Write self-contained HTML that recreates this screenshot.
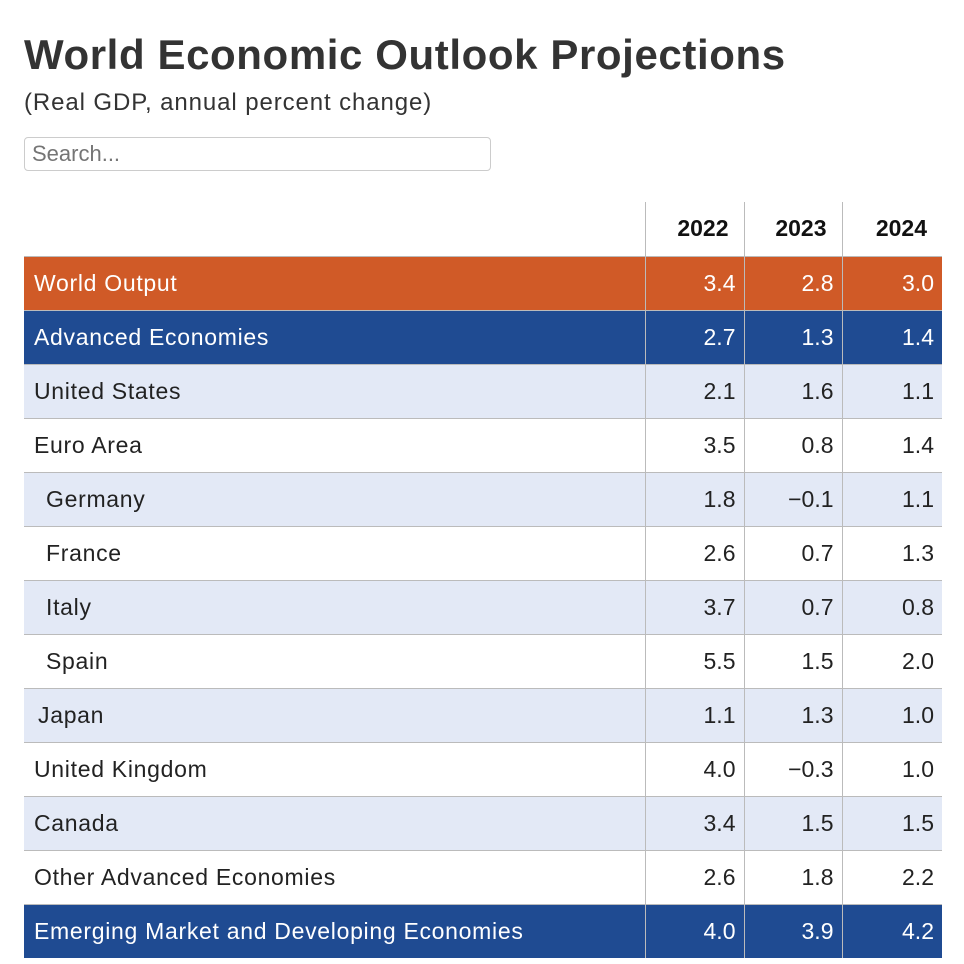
<!DOCTYPE html>
<html><head><meta charset="utf-8">
<style>
html,body{margin:0;padding:0;background:#fff;width:964px;height:964px;overflow:hidden;font-family:"Liberation Sans",sans-serif;color:#222}
#title{position:absolute;left:24px;top:31px;font-size:42px;font-weight:bold;color:#333;letter-spacing:0.6px;margin:0;white-space:nowrap}
#sub{position:absolute;left:24px;top:89px;font-size:24px;color:#333;letter-spacing:0.9px}
#search{position:absolute;left:24px;top:137px;width:467px;height:34px;box-sizing:border-box;border:1px solid #ccc;border-radius:4px;font-size:22px;padding:0 7px;color:#777;font-family:"Liberation Sans",sans-serif}
table{position:absolute;left:24px;top:202px;border-collapse:collapse;width:918px;table-layout:fixed}
td,th{height:54px;padding:0;box-sizing:border-box;font-size:23px}
th{font-weight:bold;text-align:right;padding-right:15px;border-left:1px solid #bbb;font-size:23px;vertical-align:bottom;padding-bottom:14px;color:#111}
th:first-child{border-left:none}
td{border-top:1px solid #bbb;text-align:right;padding-right:8px;border-left:1px solid #bbb}
td:first-child{text-align:left;border-left:none;padding-left:10px;letter-spacing:0.7px}
tr.o td{background:#d05a27;color:#fff}
tr.b td{background:#1f4b92;color:#fff}
tr.l td{background:#e3e9f6}
</style></head><body>
<h1 id="title">World Economic Outlook Projections</h1>
<div id="sub">(Real GDP, annual percent change)</div>
<input id="search" placeholder="Search...">
<table id="tbl">
<colgroup><col style="width:621px"><col style="width:99px"><col style="width:98px"><col style="width:100px"></colgroup>
<thead><tr><th></th><th>2022</th><th>2023</th><th>2024</th></tr></thead>
<tbody id="tb"></tbody>
</table>
<script>
const countries=["World Output","Advanced Economies","United States","Euro Area","Germany","France","Italy","Spain","Japan","United Kingdom","Canada","Other Advanced Economies","Emerging Market and Developing Economies"];
const v2022=[3.4,2.7,2.1,3.5,1.8,2.6,3.7,5.5,1.1,4.0,3.4,2.6,4.0];
const v2023=[2.8,1.3,1.6,0.8,-0.1,0.7,0.7,1.5,1.3,-0.3,1.5,1.8,3.9];
const v2024=[3.0,1.4,1.1,1.4,1.1,1.3,0.8,2.0,1.0,1.0,1.5,2.2,4.2];
const styles=["o","b","l","w","l","w","l","w","l","w","l","w","b"];
const indents=[0,0,0,0,12,12,12,12,4,0,0,0,0];
const tb=document.getElementById('tb');
function fmt(x){return x<0?'\u2212'+Math.abs(x).toFixed(1):x.toFixed(1);}
countries.forEach((c,i)=>{
  const tr=document.createElement('tr');
  tr.className=styles[i];
  
  
  const td=document.createElement('td');
  td.textContent=c;td.style.paddingLeft=(10+indents[i])+'px';
  
  
  tr.appendChild(td);
  [v2022,v2023,v2024].forEach((arr,j)=>{
    const d=document.createElement('td');
    d.textContent=fmt(arr[i]);
    
    
    tr.appendChild(d);
  });
  tb.appendChild(tr);
});
</script>
</body></html>
